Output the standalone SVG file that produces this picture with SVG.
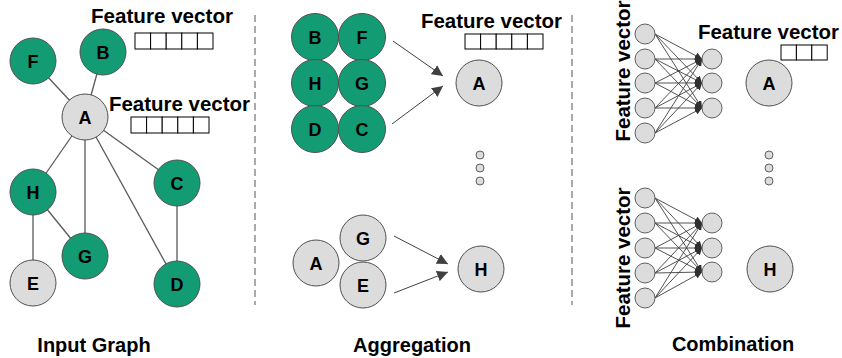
<svg xmlns="http://www.w3.org/2000/svg" width="842" height="358" viewBox="0 0 842 358">
<defs>
<style>
.g{fill:#139c73;stroke:#505050;stroke-width:1}
.w{fill:#dcdcdc;stroke:#505050;stroke-width:1}
.s{fill:#dcdcdc;stroke:#606060;stroke-width:1}
.lbl{font-family:"Liberation Sans",Arial,sans-serif;font-weight:bold;font-size:18px;text-anchor:middle;fill:#000}
.t{font-family:"Liberation Sans",Arial,sans-serif;font-weight:bold;font-size:20px;fill:#000}
.e{stroke:#5a5a5a;stroke-width:1.3;fill:none}
.a{stroke:#404040;stroke-width:1;fill:none}
.n{stroke:#404040;stroke-width:0.9;fill:none;marker-end:url(#sm)}
.box{fill:#fff;stroke:#000;stroke-width:1}
.d{stroke:#555;stroke-width:1;stroke-dasharray:7 4;fill:none}
</style>
<marker id="big" viewBox="0 0 10 10" refX="10" refY="5" markerWidth="11" markerHeight="11" markerUnits="userSpaceOnUse" orient="auto"><path d="M0,0 L10,5 L0,10 z" fill="#404040"/></marker>
<marker id="sm" viewBox="0 0 10 10" refX="10" refY="5" markerWidth="7" markerHeight="7" markerUnits="userSpaceOnUse" orient="auto"><path d="M0,0 L10,5 L0,10 z" fill="#303030"/></marker>
</defs>
<rect width="842" height="358" fill="#fff"/>

<g id="dividers">
<line class="d" x1="255" y1="15" x2="255" y2="305"/>
<line class="d" x1="572" y1="15" x2="572" y2="305"/>
</g>

<g id="connectors">
<line class="e" x1="85" y1="117" x2="33" y2="61"/>
<line class="e" x1="85" y1="117" x2="103" y2="52"/>
<line class="e" x1="85" y1="117" x2="33" y2="192"/>
<line class="e" x1="85" y1="117" x2="85" y2="256"/>
<line class="e" x1="85" y1="117" x2="177" y2="284"/>
<line class="e" x1="85" y1="117" x2="177" y2="183"/>
<line class="e" x1="33" y1="192" x2="85" y2="256"/>
<line class="e" x1="33" y1="192" x2="33" y2="283"/>
<line class="e" x1="177" y1="183" x2="177" y2="284"/>
<line class="a" x1="393" y1="41" x2="443" y2="76" marker-end="url(#big)"/>
<line class="a" x1="392" y1="124" x2="443" y2="86" marker-end="url(#big)"/>
<line class="a" x1="394" y1="236" x2="448" y2="264" marker-end="url(#big)"/>
<line class="a" x1="394" y1="293" x2="448" y2="272" marker-end="url(#big)"/>
</g>

<g id="input-graph">
<g id="n-F"><circle class="g" cx="33" cy="61" r="23"/><text class="lbl" x="33" y="67.5">F</text></g>
<g id="n-B"><circle class="g" cx="103" cy="52" r="23"/><text class="lbl" x="103" y="58.5">B</text></g>
<g id="n-A"><circle class="w" cx="85" cy="117" r="23"/><text class="lbl" x="85" y="123.5">A</text></g>
<g id="n-H"><circle class="g" cx="33" cy="192" r="23"/><text class="lbl" x="33" y="198.5">H</text></g>
<g id="n-G"><circle class="g" cx="85" cy="256" r="23"/><text class="lbl" x="85" y="262.5">G</text></g>
<g id="n-E"><circle class="w" cx="33" cy="283" r="23"/><text class="lbl" x="33" y="289.5">E</text></g>
<g id="n-C"><circle class="g" cx="177" cy="183" r="23"/><text class="lbl" x="177" y="189.5">C</text></g>
<g id="n-D"><circle class="g" cx="177" cy="284" r="23"/><text class="lbl" x="177" y="290.5">D</text></g>
<g id="fv1"><text class="t" x="91" y="23" textLength="142" lengthAdjust="spacingAndGlyphs">Feature vector</text>
<rect class="box" x="135" y="33" width="15.6" height="16"/><rect class="box" x="150.6" y="33" width="15.6" height="16"/><rect class="box" x="166.2" y="33" width="15.6" height="16"/><rect class="box" x="181.8" y="33" width="15.6" height="16"/><rect class="box" x="197.4" y="33" width="15.6" height="16"/></g>
<g id="fv2"><text class="t" x="109" y="111" textLength="141" lengthAdjust="spacingAndGlyphs">Feature vector</text>
<rect class="box" x="131" y="117" width="15.6" height="16"/><rect class="box" x="146.6" y="117" width="15.6" height="16"/><rect class="box" x="162.2" y="117" width="15.6" height="16"/><rect class="box" x="177.8" y="117" width="15.6" height="16"/><rect class="box" x="193.4" y="117" width="15.6" height="16"/></g>
<text class="t" x="94" y="352" text-anchor="middle">Input Graph</text>
</g>

<g id="aggregation">
<g id="ag-B"><circle class="g" cx="315" cy="37" r="23.5"/><text class="lbl" x="315" y="43.5">B</text></g>
<g id="ag-F"><circle class="g" cx="362" cy="37" r="23.5"/><text class="lbl" x="362" y="43.5">F</text></g>
<g id="ag-H"><circle class="g" cx="315" cy="83" r="23.5"/><text class="lbl" x="315" y="89.5">H</text></g>
<g id="ag-G"><circle class="g" cx="362" cy="83" r="23.5"/><text class="lbl" x="362" y="89.5">G</text></g>
<g id="ag-D"><circle class="g" cx="315" cy="129" r="23.5"/><text class="lbl" x="315" y="135.5">D</text></g>
<g id="ag-C"><circle class="g" cx="362" cy="129" r="23.5"/><text class="lbl" x="362" y="135.5">C</text></g>
<g id="ag-A"><circle class="w" cx="479" cy="83" r="23"/><text class="lbl" x="479" y="89.5">A</text></g>
<g id="fv3"><text class="t" x="421" y="28" textLength="141" lengthAdjust="spacingAndGlyphs">Feature vector</text>
<rect class="box" x="465" y="34" width="15.6" height="15"/><rect class="box" x="480.6" y="34" width="15.6" height="15"/><rect class="box" x="496.2" y="34" width="15.6" height="15"/><rect class="box" x="511.8" y="34" width="15.6" height="15"/><rect class="box" x="527.4" y="34" width="15.6" height="15"/></g>
<g id="ag-dots"><circle class="s" cx="480" cy="155" r="4"/><circle class="s" cx="480" cy="168" r="4"/><circle class="s" cx="480" cy="181" r="4"/></g>
<g id="ag-A2"><circle class="w" cx="316" cy="263" r="23"/><text class="lbl" x="316" y="269.5">A</text></g>
<g id="ag-G2"><circle class="w" cx="363" cy="238" r="23"/><text class="lbl" x="363" y="244.5">G</text></g>
<g id="ag-E2"><circle class="w" cx="363" cy="285" r="23"/><text class="lbl" x="363" y="291.5">E</text></g>
<g id="ag-H2"><circle class="w" cx="481" cy="269" r="23"/><text class="lbl" x="481" y="275.5">H</text></g>
<text class="t" x="412" y="352" text-anchor="middle">Aggregation</text>
</g>

<g id="combination">
<g id="nn1-edges">
<line class="n" x1="655" y1="34" x2="702" y2="59"/><line class="n" x1="655" y1="34" x2="702" y2="83"/><line class="n" x1="655" y1="34" x2="702" y2="108"/>
<line class="n" x1="655" y1="59" x2="702" y2="59"/><line class="n" x1="655" y1="59" x2="702" y2="83"/><line class="n" x1="655" y1="59" x2="702" y2="108"/>
<line class="n" x1="655" y1="83" x2="702" y2="59"/><line class="n" x1="655" y1="83" x2="702" y2="83"/><line class="n" x1="655" y1="83" x2="702" y2="108"/>
<line class="n" x1="655" y1="108" x2="702" y2="59"/><line class="n" x1="655" y1="108" x2="702" y2="83"/><line class="n" x1="655" y1="108" x2="702" y2="108"/>
<line class="n" x1="655" y1="133" x2="702" y2="59"/><line class="n" x1="655" y1="133" x2="702" y2="83"/><line class="n" x1="655" y1="133" x2="702" y2="108"/>
</g>
<g id="nn1-nodes">
<circle class="s" cx="645" cy="34" r="10"/><circle class="s" cx="645" cy="59" r="10"/><circle class="s" cx="645" cy="83" r="10"/><circle class="s" cx="645" cy="108" r="10"/><circle class="s" cx="645" cy="133" r="10"/>
<circle class="s" cx="712" cy="59" r="10"/><circle class="s" cx="712" cy="83" r="10"/><circle class="s" cx="712" cy="108" r="10"/>
</g>
<text class="t" text-anchor="middle" transform="translate(630,71) rotate(-90)" textLength="141" lengthAdjust="spacingAndGlyphs">Feature vector</text>
<g id="cb-A"><circle class="w" cx="769" cy="83" r="23"/><text class="lbl" x="769" y="89.5">A</text></g>
<g id="fv4"><text class="t" x="698" y="39" textLength="141" lengthAdjust="spacingAndGlyphs">Feature vector</text>
<rect class="box" x="781" y="45" width="15.4" height="15"/><rect class="box" x="796.4" y="45" width="15.4" height="15"/><rect class="box" x="811.8" y="45" width="15.4" height="15"/></g>
<g id="cb-dots"><circle class="s" cx="769" cy="155" r="4"/><circle class="s" cx="769" cy="168" r="4"/><circle class="s" cx="769" cy="181" r="4"/></g>
<g id="nn2-edges">
<line class="n" x1="655" y1="198" x2="702" y2="223"/><line class="n" x1="655" y1="198" x2="702" y2="248"/><line class="n" x1="655" y1="198" x2="702" y2="272"/>
<line class="n" x1="655" y1="223" x2="702" y2="223"/><line class="n" x1="655" y1="223" x2="702" y2="248"/><line class="n" x1="655" y1="223" x2="702" y2="272"/>
<line class="n" x1="655" y1="248" x2="702" y2="223"/><line class="n" x1="655" y1="248" x2="702" y2="248"/><line class="n" x1="655" y1="248" x2="702" y2="272"/>
<line class="n" x1="655" y1="273" x2="702" y2="223"/><line class="n" x1="655" y1="273" x2="702" y2="248"/><line class="n" x1="655" y1="273" x2="702" y2="272"/>
<line class="n" x1="655" y1="298" x2="702" y2="223"/><line class="n" x1="655" y1="298" x2="702" y2="248"/><line class="n" x1="655" y1="298" x2="702" y2="272"/>
</g>
<g id="nn2-nodes">
<circle class="s" cx="645" cy="198" r="10"/><circle class="s" cx="645" cy="223" r="10"/><circle class="s" cx="645" cy="248" r="10"/><circle class="s" cx="645" cy="273" r="10"/><circle class="s" cx="645" cy="298" r="10"/>
<circle class="s" cx="712" cy="223" r="10"/><circle class="s" cx="712" cy="248" r="10"/><circle class="s" cx="712" cy="272" r="10"/>
</g>
<text class="t" text-anchor="middle" transform="translate(630,258) rotate(-90)" textLength="141" lengthAdjust="spacingAndGlyphs">Feature vector</text>
<g id="cb-H"><circle class="w" cx="770" cy="269" r="23"/><text class="lbl" x="770" y="275.5">H</text></g>
<text class="t" x="733" y="351" text-anchor="middle">Combination</text>
</g>
</svg>
